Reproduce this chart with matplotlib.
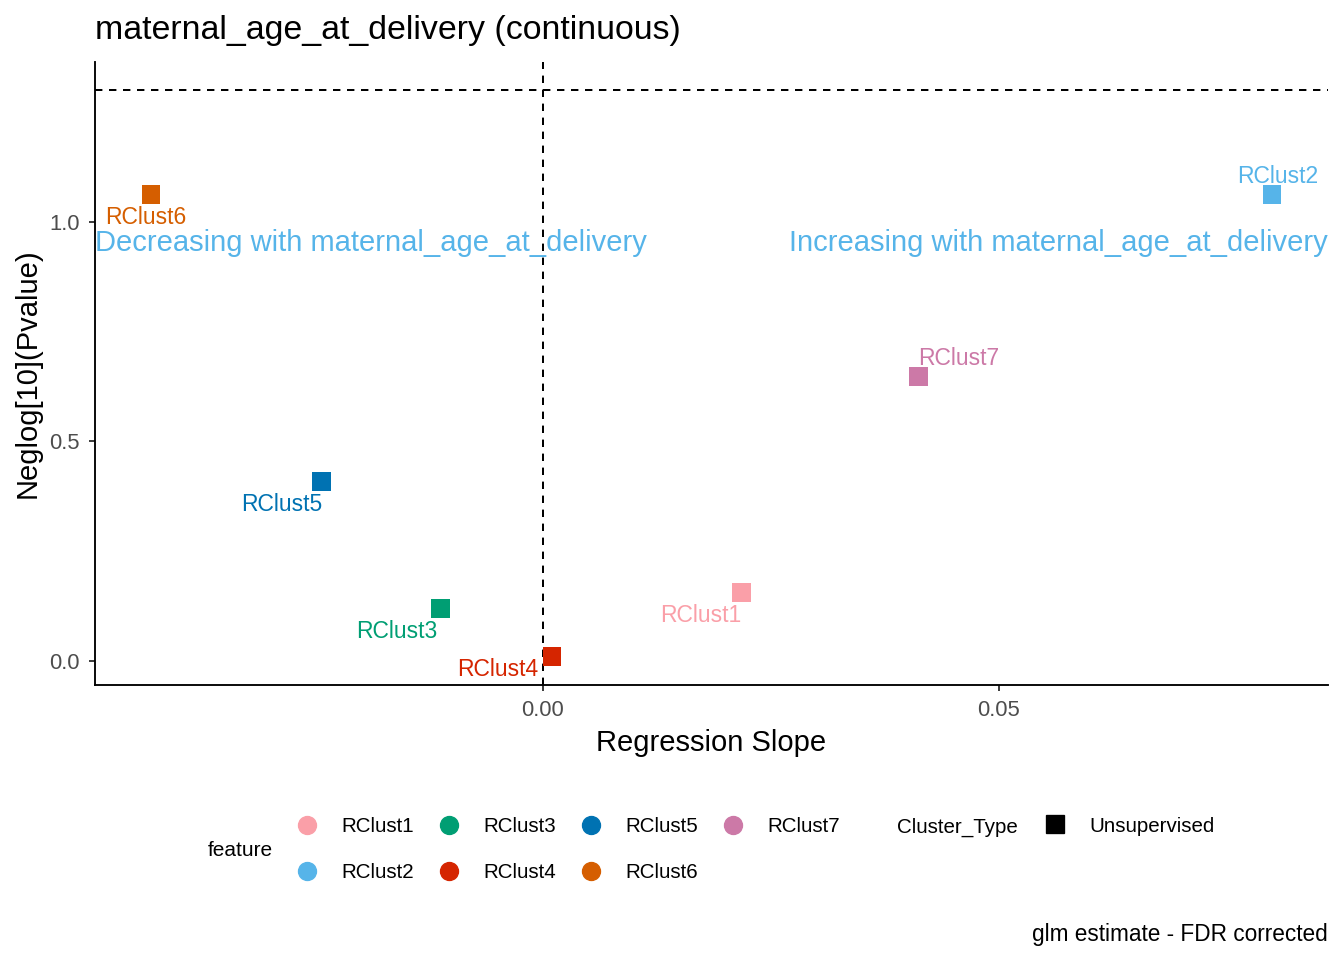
import numpy as np
import matplotlib
matplotlib.use('Agg')
import matplotlib.pyplot as plt
from matplotlib.lines import Line2D

plt.rcParams['font.family'] = ['Liberation Sans', 'DejaVu Sans']

# data
features = ['RClust1', 'RClust2', 'RClust3', 'RClust4', 'RClust5', 'RClust6', 'RClust7']
slopes = [0.0218, 0.0800, -0.0112, 0.0010, -0.0243, -0.0430, 0.0412]
neglogp = [0.155, 1.064, 0.119, 0.009, 0.409, 1.064, 0.648]
colors = ['#FA9FA8', '#56B4E9', '#009E73', '#D52500', '#0072B2', '#D55E00', '#CC79A7']
# label offsets (points) as placed by the repel layout
label_dx = [-30.75, 4.5, -33.0, -40.5, -30.0, -3.75, 30.0]
label_dy = [-17.25, 13.5, -17.25, -9.75, -17.25, -17.25, 13.5]

sig_line = -np.log10(0.05)
xticks = [0.00, 0.05]
yticks = [0.0, 0.5, 1.0]

fig = plt.figure(figsize=(14, 10), dpi=96)
ax = fig.add_axes([0.0707, 0.2865, 0.9174, 0.6489])

dash = (0, (3.7, 3.3))
ax.axvline(0, color='k', lw=1.5, linestyle=dash, zorder=1)
ax.axhline(sig_line, color='k', lw=1.5, linestyle=dash, zorder=1)

ax.scatter(slopes, neglogp, c=colors, marker='s', s=200, linewidths=0, zorder=3)
for f, x, y, c, dx, dy in zip(features, slopes, neglogp, colors, label_dx, label_dy):
    ax.annotate(f, (x, y), xytext=(dx, dy), textcoords='offset points',
                ha='center', va='center', color=c, fontsize=17.2, zorder=4)

# axis limits with ggplot-style 5% expansion
xs = slopes
ys = neglogp + [sig_line]
xpad = 0.05 * (max(xs) - min(xs))
ypad = 0.05 * (max(ys) - min(ys))
ax.set_xlim(min(xs) - xpad, max(xs) + xpad)
ax.set_ylim(min(ys) - ypad, max(ys) + ypad)

ax.text(0, 0.952, 'Decreasing with maternal_age_at_delivery',
        transform=ax.get_yaxis_transform(), ha='left', va='center',
        color='#56B4E9', fontsize=21.8)
ax.text(1, 0.952, 'Increasing with maternal_age_at_delivery',
        transform=ax.get_yaxis_transform(), ha='right', va='center',
        color='#56B4E9', fontsize=21.8)

for s in ['top', 'right']:
    ax.spines[s].set_visible(False)
for s in ['left', 'bottom']:
    ax.spines[s].set_linewidth(1.4)
ax.set_xticks(xticks)
ax.set_xticklabels(['%.2f' % t for t in xticks])
ax.set_yticks(yticks)
ax.set_yticklabels(['%.1f' % t for t in yticks])
ax.tick_params(axis='both', length=4.5, width=1.4, color='#333333',
               labelcolor='#4D4D4D', labelsize=16.5, pad=7)

ax.set_xlabel('Regression Slope', fontsize=21.8, labelpad=6)
ax.set_ylabel('Neglog[10](Pvalue)', fontsize=21.8, labelpad=6)
fig.text(95 / 1344, 1 - 31 / 960, 'maternal_age_at_delivery (continuous)',
         ha='left', va='center', fontsize=25.4)
fig.text(1328 / 1344, 1 - 934 / 960, 'glm estimate - FDR corrected',
         ha='right', va='center', fontsize=17.0)

# legend drawn by hand to copy ggplot's bottom layout
W, H = 1344, 960
fig.text(208 / W, 1 - 850 / H, 'feature', ha='left', va='center', fontsize=15.7)
for i, (f, c) in enumerate(zip(features, colors)):
    col, row = i // 2, i % 2
    kx = 307 + 142 * col
    ky = 825 + 46 * row
    fig.add_artist(Line2D([kx / W], [1 - ky / H], marker='o', markersize=13.5,
                          color=c, linestyle='none', transform=fig.transFigure))
    fig.text((kx + 34) / W, 1 - (ky + 2) / H, f, ha='left', va='center', fontsize=15.4)

fig.text(897 / W, 1 - 827 / H, 'Cluster_Type', ha='left', va='center', fontsize=15.4)
fig.add_artist(Line2D([1055 / W], [1 - 824 / H], marker='s', markersize=13,
                      color='k', linestyle='none', transform=fig.transFigure))
fig.text(1089 / W, 1 - 827 / H, 'Unsupervised', ha='left', va='center', fontsize=15.4)

fig.savefig('out.png', dpi=96, facecolor='white')
